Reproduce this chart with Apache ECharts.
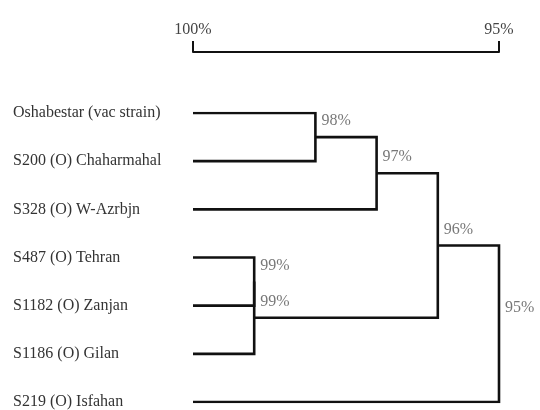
<!DOCTYPE html>
<html>
<head>
<meta charset="utf-8">
<script src="https://cdn.jsdelivr.net/npm/echarts@6/dist/echarts.min.js"></script>
<style>html,body{margin:0;padding:0;background:#fff}#c{width:540px;height:410px}</style>
</head>
<body>
<div id="c"></div>
<script>
// Leaves (top to bottom)
var leaves = ['Oshabestar (vac strain)', 'S200 (O) Chaharmahal', 'S328 (O) W-Azrbjn', 'S487 (O) Tehran', 'S1182 (O) Zanjan', 'S1186 (O) Gilan', 'S219 (O) Isfahan'];
// Merges: [childA, childB, similarity %]; children are leaf indices or 'n'+merge index
var merges = [
  [0, 1, 98],        // n0
  ['n0', 2, 97],     // n1
  [3, 4, 99],        // n2
  ['n2', 5, 99],     // n3
  ['n1', 'n3', 96],  // n4
  ['n4', 6, 95]      // n5
];
var scaleTicks = [100, 95];

var nodes = {};
function pos(c) {
  if (typeof c === 'number') return { x: 100, y: c };
  return nodes[c];
}
var series = [];
var labelPts = [];
merges.forEach(function (m, i) {
  var a = pos(m[0]), b = pos(m[1]), h = m[2];
  var y = (a.y + b.y) / 2;
  nodes['n' + i] = { x: h, y: y };
  series.push({
    type: 'line', symbol: 'none', silent: true,
    lineStyle: { color: '#111', width: 2.6, join: 'miter', cap: 'butt' },
    data: [[a.x, a.y], [h, a.y], [h, b.y], [b.x, b.y]]
  });
  labelPts.push({ value: [h, y], name: h + '%' });
});
series.push({
  type: 'scatter', symbolSize: 0, silent: true,
  data: labelPts,
  label: { show: true, position: 'right', distance: 6, offset: [0, -16], formatter: '{b}',
    fontFamily: 'Liberation Serif', fontSize: 16, color: '#555' }
});

var chart = echarts.init(document.getElementById('c'), null, { renderer: 'canvas' });
chart.setOption({
  animation: false,
  backgroundColor: '#fff',
  grid: { left: 193, right: 41, top: 113, bottom: 5, containLabel: false },
  xAxis: {
    type: 'value', position: 'top', offset: 61, min: 95, max: 100, interval: 5, inverse: true,
    axisLine: { show: true, onZero: false, lineStyle: { color: '#111', width: 2 } },
    axisTick: { show: true, length: 11, lineStyle: { color: '#111', width: 2 } },
    axisLabel: { margin: 14, fontFamily: 'Liberation Serif', fontSize: 16, color: '#444',
      formatter: function (v) { return scaleTicks.indexOf(v) >= 0 ? v + '%' : ''; } },
    splitLine: { show: false }
  },
  yAxis: {
    type: 'value', min: 0, max: leaves.length - 1, interval: 1, inverse: true,
    axisLine: { show: false }, axisTick: { show: false }, splitLine: { show: false },
    axisLabel: { align: 'left', margin: 180, fontFamily: 'Liberation Serif', fontSize: 16, color: '#333',
      formatter: function (v) { return leaves[v] || ''; } }
  },
  series: series
});
</script>
</body>
</html>
